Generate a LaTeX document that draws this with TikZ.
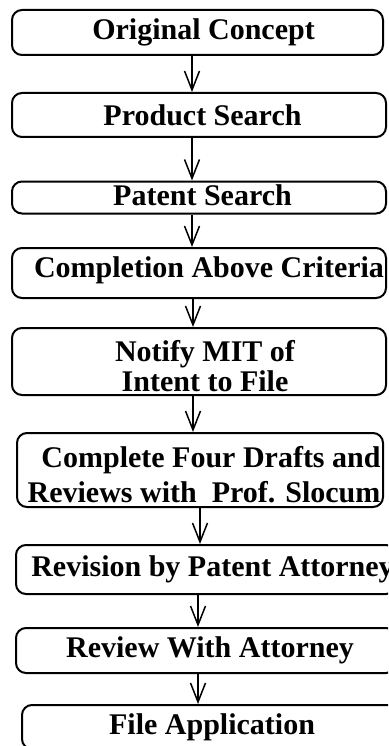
\documentclass[tikz,border=0pt]{standalone}
\usepackage{fontspec}
\setmainfont{Liberation Serif}
\usetikzlibrary{arrows.meta}

\tikzset{
  stepbox/.style={draw, line width=2pt, rounded corners=10pt, inner sep=0pt},
  steptext/.style={inner sep=0pt, align=center, font=\fontsize{30}{30}\selectfont\bfseries},
  flow/.style={line width=1.5pt,
    -{Straight Barb[length=19pt,width=15pt,line width=1.5pt]}}
}

\begin{document}
\begin{tikzpicture}[x=1pt,y=-1pt]
  \useasboundingbox (0,0) rectangle (388,746);
  \clip (0,0) rectangle (388,746);

  % Process steps, top to bottom (boxes)
  \node[stepbox, minimum width=371pt, minimum height=45pt] (concept)  at (197.5,32.5) {};
  \node[stepbox, minimum width=374pt, minimum height=44pt] (product)  at (199,115)    {};
  \node[stepbox, minimum width=374pt, minimum height=32pt] (patent)   at (199,197.5)  {};
  \node[stepbox, minimum width=374pt, minimum height=50pt] (criteria) at (199,273)    {};
  \node[stepbox, minimum width=374pt, minimum height=67pt] (notify)   at (199,361.5)  {};
  \node[stepbox, minimum width=366pt, minimum height=74pt] (drafts)   at (200,470)    {};
  \node[stepbox, minimum width=380pt, minimum height=49pt] (revision) at (206,569.5)  {};
  \node[stepbox, minimum width=380pt, minimum height=45pt] (review)   at (206,650.5)  {};
  \node[stepbox, minimum width=380pt, minimum height=44pt] (file)     at (212,727)    {};

  % Texts, a little right of the box centres as in the scan
  \node[steptext] (concept-t)  at ([xshift=6pt]concept.center)           {Original Concept};
  \node[steptext] (product-t)  at ([xshift=3.5pt]product.center)         {Product Search};
  \node[steptext] (patent-t)   at ([xshift=3.5pt,yshift=2.5pt]patent.center) {Patent Search};
  \node[steptext] (criteria-t) at ([xshift=10pt,yshift=3pt]criteria.center)  {Completion Above Criteria};
  \node[steptext, font=\fontsize{30}{30}\selectfont\bfseries]
                  (notify-t)   at ([xshift=6pt,yshift=-5pt]notify.center)  {Notify MIT of\\Intent to File};
  \node[steptext, font=\fontsize{30}{35}\selectfont\bfseries]
                  (drafts-t)   at ([xshift=4pt,yshift=-4.5pt]drafts.center) {\hspace*{14pt}Complete Four Drafts and\\Reviews with~ Prof. Slocum};
  \node[steptext] (revision-t) at ([xshift=6.5pt]revision.center)        {Revision by Patent Attorney};
  \node[steptext] (review-t)   at ([xshift=4pt]review.center)            {Review With Attorney};
  \node[steptext] (file-t)     at (file.center)                          {File Application};

  % Connectors
  \draw[flow] ([xshift=-5.5pt]concept.south) -- ([xshift=-7pt]product.north);
  \draw[flow] ([xshift=-7pt]product.south)   -- ([xshift=-7pt]patent.north);
  \draw[flow] ([xshift=-7pt]patent.south)    -- ([xshift=-7pt]criteria.north);
  \draw[flow] ([xshift=-6pt]criteria.south)  -- ([xshift=-6pt]notify.north);
  \draw[flow] ([xshift=-6pt]notify.south)    -- ([xshift=-7pt]drafts.north);
  \draw[flow] ([xshift=0pt]drafts.south)     -- ([xshift=-6pt]revision.north);
  \draw[flow] ([xshift=-8pt]revision.south)  -- ([xshift=-8pt]review.north);
  \draw[flow] ([xshift=-8pt]review.south)    -- ([xshift=-14pt]file.north);

\end{tikzpicture}
\end{document}
